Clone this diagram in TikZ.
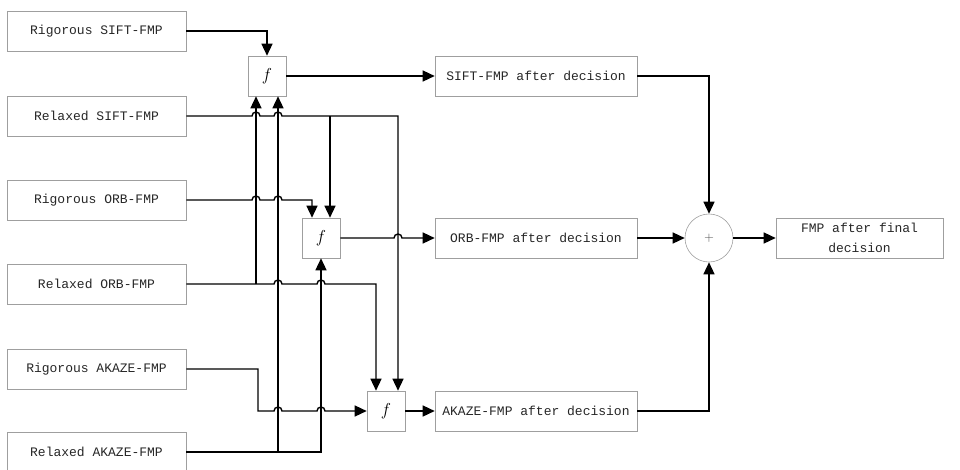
\documentclass[tikz,border=0pt]{standalone}
\usepackage{fontspec}
\setmonofont{Liberation Mono}
\usepackage{tikz}
\usetikzlibrary{arrows.meta,calc}
\newcommand{\hopat}[2]{-- ($(#1 |- #2)+(-4,0)$) arc[start angle=180,end angle=0,radius=4pt]}

\begin{document}
\begin{tikzpicture}[x=1pt,y=-1pt,
    box/.style={draw=gray!75,line width=0.6pt,minimum height=40pt,inner sep=0pt,
      font=\ttfamily\fontsize{13}{20}\selectfont,text=black!85},
    inbox/.style={box,minimum width=179pt},
    outbox/.style={box,minimum width=202pt},
    fnbox/.style={draw=gray!75,line width=0.6pt,minimum width=38pt,minimum height=40pt,
      inner sep=0pt,font=\fontsize{19}{19}\selectfont},
    arr/.style={line width=1.4pt,-{Triangle[length=12pt,width=11pt]}}]
    \useasboundingbox (0,0) rectangle (960,469);
    % inputs
    \node[inbox] (rsift) at (96.5,31) {Rigorous SIFT-FMP};
    \node[inbox] (xsift) at (96.5,116) {Relaxed SIFT-FMP};
    \node[inbox] (rorb) at (96.5,200) {Rigorous ORB-FMP};
    \node[inbox] (xorb) at (96.5,284) {Relaxed ORB-FMP};
    \node[inbox] (rakaze) at (96.5,369) {Rigorous AKAZE-FMP};
    \node[inbox] (xakaze) at (96.5,452) {Relaxed AKAZE-FMP};
    % decision blocks
    \node[fnbox] (f1) at (267,76) {$f$};
    \node[fnbox] (f2) at (321,238) {$f$};
    \node[fnbox] (f3) at (386,411) {$f$};
    \node[outbox] (sifta) at (536,76) {SIFT-FMP after decision};
    \node[outbox] (orba) at (536,238) {ORB-FMP after decision};
    \node[outbox] (akazea) at (536,411) {AKAZE-FMP after decision};
    \node[circle,draw=gray!75,line width=0.6pt,minimum size=48pt,inner sep=0pt,
      text=black!70,font=\fontsize{13}{13}\selectfont] (sum) at (709,238) {+};
    \node[box,minimum width=167pt,align=center] (final) at (859.5,238) {FMP after final\\decision};
    % entry points
    \coordinate (va) at ($(f1.south)+(-11,0)$);
    \coordinate (vb) at ($(f1.south)+(11,0)$);
    \coordinate (vc) at ($(f2.north)+(-9,0)$);
    \coordinate (vd) at ($(f2.north)+(9,0)$);
    \coordinate (ve) at ($(f3.north)+(-10,0)$);
    \coordinate (vf) at ($(f3.north)+(12,0)$);
    \coordinate (bend) at ($(va |- rakaze.east)+(2,0)$);
    % connectors
    \draw[arr] (rsift.east) -| (f1.north);
    \draw[arr] (xsift.east) \hopat{va}{xsift.east} \hopat{vb}{xsift.east} -| (vf);
    \draw[arr] (vd |- xsift.east) -- (vd);
    \draw[arr] (rorb.east) \hopat{va}{rorb.east} \hopat{vb}{rorb.east} -| (vc);
    \draw[arr] (va |- xorb.east) -- (va);
    \draw[arr] (xorb.east) \hopat{vb}{xorb.east} \hopat{f2.south}{xorb.east} -| (ve);
    \draw[arr] (rakaze.east) -| (bend |- f3.west) \hopat{vb}{f3.west} \hopat{f2.south}{f3.west} -- (f3.west);
    \draw[arr] (vb |- xakaze.east) -- (vb);
    \draw[arr] (xakaze.east) -| (f2.south);
    \draw[arr] (f1.east) -- (sifta.west);
    \draw[arr] (f2.east) \hopat{vf}{f2.east} -- (orba.west);
    \draw[arr] (f3.east) -- (akazea.west);
    \draw[arr] (sifta.east) -| (sum.north);
    \draw[arr] (orba.east) -- (sum.west);
    \draw[arr] (akazea.east) -| (sum.south);
    \draw[arr] (sum.east) -- (final.west);
\end{tikzpicture}
\end{document}
